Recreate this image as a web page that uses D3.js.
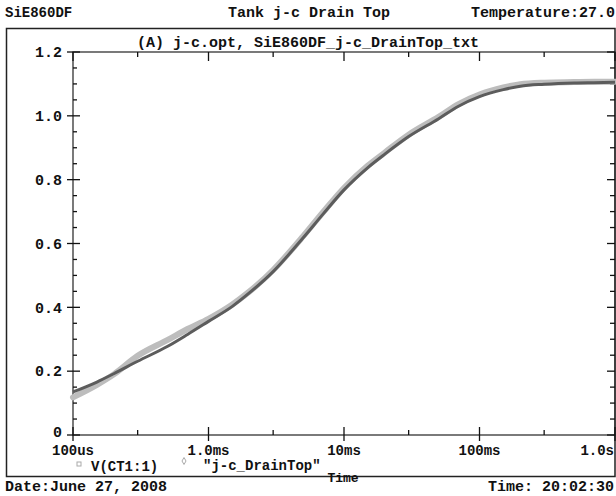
<!DOCTYPE html>
<html>
<head>
<meta charset="utf-8">
<script src="https://cdn.jsdelivr.net/npm/d3@7"></script>
<style>
  body { margin: 0; background: #fff; }
  text { font-family: "Liberation Mono", "DejaVu Sans Mono", monospace; font-weight: bold; fill: #111; }
</style>
</head>
<body>
<div id="app"></div>
<script>
// time points (seconds) and the two traces
const times = [1e-4, 1.5e-4, 2e-4, 3e-4, 5e-4, 7e-4, 1e-3, 1.5e-3, 2e-3, 3e-3, 5e-3, 7e-3,
  1e-2, 1.5e-2, 2e-2, 3e-2, 5e-2, 7e-2, 0.1, 0.15, 0.2, 0.3, 0.5, 0.7, 1.0];
const simValues = [0.135, 0.166, 0.192, 0.231, 0.278, 0.315, 0.356, 0.403, 0.445, 0.512, 0.618, 0.692,
  0.768, 0.838, 0.880, 0.935, 0.991, 1.030, 1.060, 1.082, 1.093, 1.099, 1.103, 1.104, 1.105];
const measValues = [0.118, 0.157, 0.190, 0.248, 0.298, 0.332, 0.364, 0.409, 0.449, 0.517, 0.623, 0.698,
  0.774, 0.844, 0.885, 0.941, 0.997, 1.037, 1.067, 1.089, 1.099, 1.104, 1.106, 1.107, 1.107];

const xTicks = [1e-4, 1e-3, 1e-2, 1e-1, 1];
const xTickLabels = ['100us', '1.0ms', '10ms', '100ms', '1.0s'];
const xMinor = [3e-4, 3e-3, 3e-2, 3e-1];
const yTicks = [0, 0.2, 0.4, 0.6, 0.8, 1.0, 1.2];
const yTickLabels = ['0', '0.2', '0.4', '0.6', '0.8', '1.0', '1.2'];
const yMinor = d3.range(0.05, 1.2, 0.05).filter(v => Math.abs(v * 5 - Math.round(v * 5)) > 1e-6);

const width = 616;
const height = 496;
const pLeft = 73, pRight = 615, pTop = 52, pBottom = 435;

const svg = d3.select('#app').append('svg')
  .attr('width', width)
  .attr('height', height);

const x = d3.scaleLog().domain([1e-4, 1]).range([pLeft, pRight]);
const y = d3.scaleLinear().domain([0, 1.2]).range([pBottom, pTop]);

// header
svg.append('text').attr('x', 5).attr('y', 17).style('font-size', '14px').text('SiE860DF');
svg.append('text').attr('x', 309).attr('y', 17).attr('text-anchor', 'middle').style('font-size', '15px').text('Tank j-c Drain Top');
svg.append('text').attr('x', 615).attr('y', 17).attr('text-anchor', 'end').style('font-size', '15px').text('Temperature:27.0');

// outer frame
svg.append('rect')
  .attr('x', 6.5).attr('y', 28.5)
  .attr('width', 608.5).attr('height', 448)
  .attr('fill', 'none').attr('stroke', '#222').attr('stroke-width', 1.5);

svg.append('text').attr('x', 308).attr('y', 47).attr('text-anchor', 'middle').style('font-size', '15px')
  .text('(A) j-c.opt, SiE860DF_j-c_DrainTop_txt');

// plot box
svg.append('rect')
  .attr('x', pLeft).attr('y', pTop)
  .attr('width', pRight - pLeft).attr('height', pBottom - pTop)
  .attr('fill', 'none').attr('stroke', '#333').attr('stroke-width', 1.3);

const ticks = svg.append('g').attr('stroke', '#111').attr('stroke-width', 1.3);

// bottom / top ticks
xTicks.forEach(t => {
  ticks.append('line').attr('x1', x(t)).attr('x2', x(t)).attr('y1', pBottom - 8).attr('y2', pBottom + 6);
  ticks.append('line').attr('x1', x(t)).attr('x2', x(t)).attr('y1', pTop).attr('y2', pTop + 9);
});
xMinor.forEach(t => {
  ticks.append('line').attr('x1', x(t)).attr('x2', x(t)).attr('y1', pBottom - 5).attr('y2', pBottom);
  ticks.append('line').attr('x1', x(t)).attr('x2', x(t)).attr('y1', pTop).attr('y2', pTop + 5);
});

// left / right ticks
yTicks.forEach(v => {
  ticks.append('line').attr('x1', pLeft - 6).attr('x2', pLeft + 7).attr('y1', y(v)).attr('y2', y(v));
  ticks.append('line').attr('x1', pRight - 8).attr('x2', pRight).attr('y1', y(v)).attr('y2', y(v));
});
yMinor.forEach(v => {
  ticks.append('line').attr('x1', pLeft).attr('x2', pLeft + 4).attr('y1', y(v)).attr('y2', y(v));
  ticks.append('line').attr('x1', pRight - 5).attr('x2', pRight).attr('y1', y(v)).attr('y2', y(v));
});

// tick labels
svg.append('g').selectAll('text')
  .data(yTicks)
  .join('text')
  .attr('x', 62)
  .attr('y', d => y(d))
  .attr('dy', (d, i) => i === 0 ? '0.1em' : '0.35em')
  .attr('text-anchor', 'end')
  .style('font-size', '15px')
  .text((d, i) => yTickLabels[i]);

svg.append('g').selectAll('text')
  .data(xTicks)
  .join('text')
  .attr('x', (d, i) => i === xTicks.length - 1 ? 614 : x(d))
  .attr('y', 455)
  .attr('text-anchor', (d, i) => i === xTicks.length - 1 ? 'end' : 'middle')
  .style('font-size', '14px')
  .text((d, i) => xTickLabels[i]);

// traces
const line = d3.line()
  .x(d => x(d[0]))
  .y(d => y(d[1]))
  .curve(d3.curveMonotoneX);

svg.append('path')
  .datum(d3.zip(times, measValues))
  .attr('fill', 'none').attr('stroke', '#bdbdbd').attr('stroke-width', 6)
  .attr('stroke-linecap', 'round')
  .attr('d', line);

svg.append('path')
  .datum(d3.zip(times, simValues))
  .attr('fill', 'none').attr('stroke', '#5c5c5c').attr('stroke-width', 3)
  .attr('d', line);

// legend
svg.append('rect').attr('x', 77).attr('y', 462).attr('width', 4).attr('height', 4)
  .attr('fill', 'none').attr('stroke', '#aaa').attr('stroke-width', 1);
svg.append('text').attr('x', 91).attr('y', 471).style('font-size', '14px').text('V(CT1:1)');
svg.append('path').attr('d', d3.symbol(d3.symbolDiamond, 14)())
  .attr('transform', 'translate(184,461)')
  .attr('fill', 'none').attr('stroke', '#aaa').attr('stroke-width', 1);
svg.append('text').attr('x', 203).attr('y', 470).style('font-size', '14px').text('"j-c_DrainTop"');

svg.append('text').attr('x', 343).attr('y', 482).attr('text-anchor', 'middle').style('font-size', '13px').text('Time');

// footer
svg.append('text').attr('x', 5).attr('y', 491).style('font-size', '15px').text('Date:June 27, 2008');
svg.append('text').attr('x', 614).attr('y', 491).attr('text-anchor', 'end').style('font-size', '15px').text('Time: 20:02:30');
</script>
</body>
</html>
